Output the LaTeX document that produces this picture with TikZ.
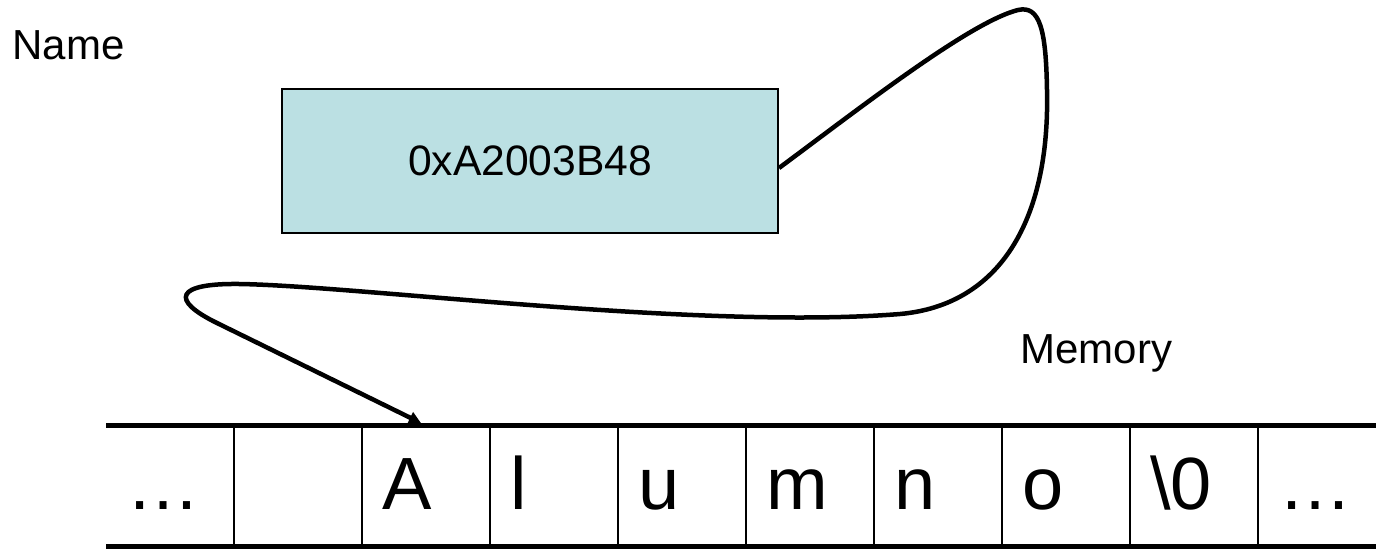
\documentclass[tikz,border=0pt]{standalone}
\usepackage{fontspec}
\setmainfont{Liberation Sans}
\usetikzlibrary{arrows.meta,calc}
\definecolor{boxfill}{HTML}{BBE0E3}
\begin{document}
\begin{tikzpicture}[x=0.5pt,y=-0.5pt,
  membar/.style={line width=2.5pt},
  memdiv/.style={line width=1pt},
  cellchar/.style={anchor=base west,inner sep=0pt,font=\fontsize{37}{44}\selectfont},
  lbl/.style={anchor=base west,inner sep=0pt,font=\fontsize{21}{25}\selectfont},
  ptrbox/.style={draw,line width=1pt,fill=boxfill,minimum width=248pt,minimum height=72pt,inner sep=0pt,font=\fontsize{21.3}{25}\selectfont},
  link/.style={line width=2.25pt,-{Triangle[length=6pt,width=6pt]}}
]
\useasboundingbox (0,0) rectangle (1376,548);
% labels
\node[lbl] (name) at (12,59) {Name};
\node[lbl] (memory) at (1020,363) {Memory};
% pointer box
\node[ptrbox] (ptr) at (530,161) {0xA2003B48};
% memory strip
\draw[membar] (106,425) coordinate (mtl) -- (1376,425) coordinate (mtr);
\draw[membar] (106,546) coordinate (mbl) -- (1376,546) coordinate (mbr);
\foreach \k in {0,...,8}{
  \draw[memdiv] ({234+128*\k},425) -- ({234+128*\k},546);
}
\foreach \i/\t in {0/…,2/A,3/l,4/u,5/m,6/n,7/o,8/\textbackslash 0,9/…}{
  \node[cellchar] (c\i) at ({106+128*\i+20},509) {\t};
}
% pointer connector
\coordinate (pstart) at ($(ptr.east)+(0,7)$);
\coordinate (atop) at (421,423);
\draw[link] (pstart) .. controls (860,108) and (970,22) .. (1018,10)
  .. controls (1040,5) and (1046,30) .. (1047,90)
  .. controls (1050,220) and (1000,305) .. (900,314)
  .. controls (700,330) and (360,286) .. (240,284)
  .. controls (175,283) and (170,300) .. (217,323)
  -- (atop);
\end{tikzpicture}
\end{document}
